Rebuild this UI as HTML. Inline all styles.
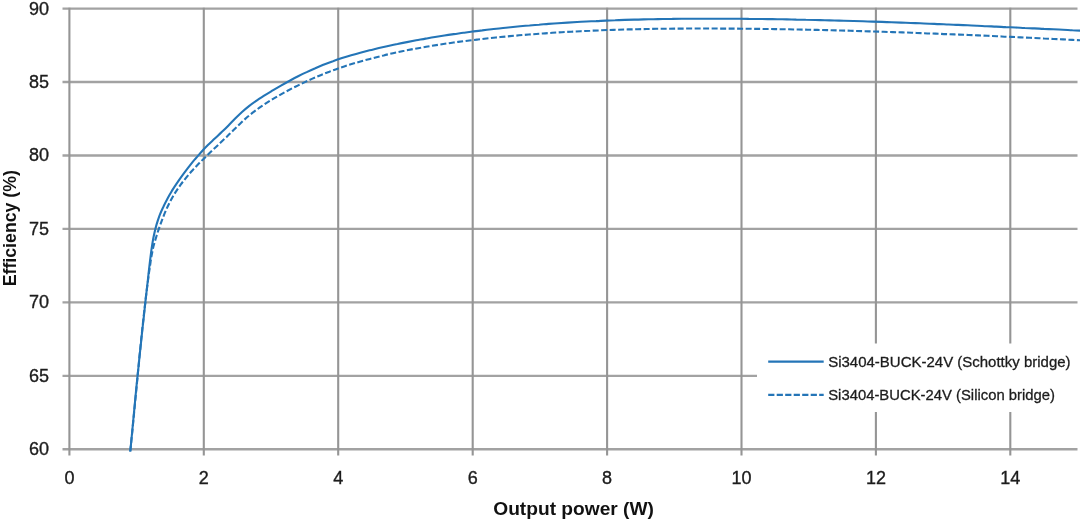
<!DOCTYPE html>
<html lang="en">
<head>
<meta charset="utf-8">
<title>Efficiency vs Output power</title>
<style>
html,body{margin:0;padding:0;background:#fff;}
body{width:1080px;height:520px;overflow:hidden;}
svg{display:block;}
text{font-family:"Liberation Sans",Arial,sans-serif;fill:#1c1c1c;}
.tick{font-size:18px;stroke:#1c1c1c;stroke-width:0.35px;}
.ttl{font-size:17.6px;font-weight:bold;fill:#111;}
.leg{font-size:15.4px;stroke:#1c1c1c;stroke-width:0.3px;}
.g line{stroke:#959595;stroke-width:2.1;}
.g line.h{stroke:#a2a2a2;stroke-width:2.4;}
</style>
</head>
<body>
<svg width="1080" height="520" viewBox="0 0 1080 520">
<rect width="1080" height="520" fill="#fff"/>
<g class="g">
<line class="h" x1="62.5" y1="449.3" x2="1077.5" y2="449.3"/>
<line class="h" x1="62.5" y1="375.9" x2="1077.5" y2="375.9"/>
<line class="h" x1="62.5" y1="302.4" x2="1077.5" y2="302.4"/>
<line class="h" x1="62.5" y1="228.9" x2="1077.5" y2="228.9"/>
<line class="h" x1="62.5" y1="155.5" x2="1077.5" y2="155.5"/>
<line class="h" x1="62.5" y1="82.0" x2="1077.5" y2="82.0"/>
<line class="h" x1="62.5" y1="8.6" x2="1077.5" y2="8.6"/>
<line x1="69.4" y1="7.8" x2="69.4" y2="455.5"/>
<line x1="203.8" y1="7.8" x2="203.8" y2="455.5"/>
<line x1="338.2" y1="7.8" x2="338.2" y2="455.5"/>
<line x1="472.7" y1="7.8" x2="472.7" y2="455.5"/>
<line x1="607.1" y1="7.8" x2="607.1" y2="455.5"/>
<line x1="741.5" y1="7.8" x2="741.5" y2="455.5"/>
<line x1="875.9" y1="7.8" x2="875.9" y2="455.5"/>
<line x1="1010.3" y1="7.8" x2="1010.3" y2="455.5"/>
</g>
<rect x="757" y="343.5" width="323" height="68.5" fill="#fff"/>
<path d="M130.3 451.5 C130.4 449.9 130.9 445.2 131.2 442.0 C131.5 438.8 131.8 435.7 132.1 432.5 C132.4 429.3 132.7 426.2 133.0 423.0 C133.3 419.8 133.6 416.7 133.9 413.5 C134.2 410.3 134.5 407.2 134.8 404.0 C135.1 400.8 135.4 397.7 135.7 394.5 C136.0 391.4 136.3 388.2 136.6 385.1 C137.0 381.9 137.3 378.7 137.6 375.6 C137.9 372.4 138.2 369.3 138.6 366.1 C138.9 363.0 139.2 359.8 139.5 356.6 C139.9 353.5 140.2 350.3 140.5 347.2 C140.9 344.0 141.2 340.9 141.5 337.7 C141.9 334.6 142.2 331.4 142.5 328.2 C142.9 325.1 143.2 321.9 143.6 318.8 C143.9 315.6 144.2 312.5 144.6 309.3 C144.9 306.1 145.3 303.0 145.6 299.8 C146.0 296.7 146.3 293.5 146.7 290.3 C147.0 287.2 147.4 284.0 147.8 280.8 C148.1 277.7 148.5 274.5 148.8 271.3 C149.2 268.2 149.5 265.0 149.9 261.8 C150.3 258.7 150.7 255.5 151.1 252.3 C151.5 249.2 152.0 246.0 152.5 242.9 C153.0 239.8 153.6 236.7 154.3 233.6 C155.0 230.5 155.7 227.4 156.6 224.4 C157.5 221.4 158.5 218.4 159.6 215.4 C160.7 212.5 162.0 209.5 163.4 206.7 C164.7 203.8 166.2 201.0 167.7 198.2 C169.2 195.4 170.9 192.6 172.5 189.9 C174.2 187.2 176.0 184.5 177.8 181.9 C179.5 179.3 181.4 176.7 183.3 174.1 C185.1 171.6 187.1 169.1 189.0 166.6 C191.0 164.1 193.0 161.6 195.0 159.2 C197.1 156.8 199.2 154.4 201.3 152.0 C203.4 149.7 205.6 147.4 207.9 145.1 C210.1 142.9 212.5 140.8 214.8 138.6 C217.1 136.4 219.5 134.3 221.7 132.1 C224.0 129.9 226.3 127.7 228.5 125.4 C230.7 123.2 232.9 120.9 235.2 118.6 C237.4 116.4 239.7 114.1 242.0 112.0 C244.4 109.9 246.8 107.9 249.3 105.9 C251.8 104.0 254.4 102.2 257.0 100.4 C259.7 98.6 262.4 96.9 265.0 95.2 C267.7 93.5 270.4 91.9 273.2 90.2 C275.9 88.6 278.6 87.0 281.4 85.4 C284.1 83.8 286.9 82.2 289.7 80.7 C292.5 79.2 295.3 77.7 298.1 76.3 C301.0 74.8 303.8 73.4 306.7 72.1 C309.5 70.7 312.4 69.4 315.3 68.2 C318.2 66.9 321.2 65.7 324.1 64.5 C327.1 63.3 330.0 62.2 333.0 61.2 C336.0 60.1 339.0 59.1 342.0 58.1 C345.1 57.1 348.1 56.2 351.2 55.3 C354.2 54.4 357.3 53.5 360.3 52.7 C363.4 51.9 366.5 51.1 369.6 50.3 C372.7 49.6 375.8 48.8 378.9 48.1 C382.0 47.4 385.1 46.7 388.2 46.0 C391.3 45.3 394.4 44.6 397.5 44.0 C400.6 43.3 403.7 42.7 406.9 42.1 C410.0 41.5 413.1 40.9 416.2 40.3 C419.4 39.7 422.5 39.2 425.6 38.6 C428.7 38.1 431.9 37.6 435.0 37.0 C438.1 36.5 441.3 36.0 444.4 35.5 C447.6 35.1 450.7 34.6 453.8 34.1 C457.0 33.7 460.1 33.2 463.3 32.8 C466.4 32.4 469.6 32.0 472.7 31.5 C475.9 31.1 479.0 30.7 482.2 30.4 C485.3 30.0 488.5 29.6 491.6 29.2 C494.8 28.9 497.9 28.5 501.1 28.2 C504.3 27.9 507.4 27.5 510.6 27.2 C513.7 26.9 516.9 26.6 520.1 26.3 C523.2 26.0 526.4 25.7 529.5 25.5 C532.7 25.2 535.9 24.9 539.0 24.7 C542.2 24.4 545.4 24.2 548.5 23.9 C551.7 23.7 554.9 23.5 558.0 23.2 C561.2 23.0 564.4 22.8 567.5 22.6 C570.7 22.4 573.9 22.2 577.1 22.0 C580.2 21.9 583.4 21.7 586.6 21.5 C589.7 21.4 592.9 21.2 596.1 21.1 C599.3 20.9 602.4 20.8 605.6 20.6 C608.8 20.5 612.0 20.4 615.1 20.3 C618.3 20.1 621.5 20.0 624.7 19.9 C627.8 19.8 631.0 19.7 634.2 19.6 C637.4 19.6 640.6 19.5 643.7 19.4 C646.9 19.3 650.1 19.3 653.3 19.2 C656.4 19.1 659.6 19.1 662.8 19.0 C666.0 19.0 669.2 18.9 672.3 18.9 C675.5 18.8 678.7 18.8 681.9 18.8 C685.1 18.8 688.2 18.7 691.4 18.7 C694.6 18.7 697.8 18.7 701.0 18.7 C704.1 18.7 707.3 18.7 710.5 18.7 C713.7 18.7 716.9 18.7 720.0 18.7 C723.2 18.7 726.4 18.7 729.6 18.7 C732.8 18.7 735.9 18.8 739.1 18.8 C742.3 18.8 745.5 18.8 748.7 18.9 C751.8 18.9 755.0 18.9 758.2 19.0 C761.4 19.0 764.5 19.0 767.7 19.1 C770.9 19.1 774.1 19.2 777.3 19.2 C780.4 19.3 783.6 19.3 786.8 19.4 C790.0 19.5 793.1 19.5 796.3 19.6 C799.5 19.6 802.7 19.7 805.8 19.8 C809.0 19.8 812.2 19.9 815.4 20.0 C818.5 20.1 821.7 20.1 824.9 20.2 C828.1 20.3 831.2 20.4 834.4 20.5 C837.6 20.6 840.8 20.6 843.9 20.7 C847.1 20.8 850.3 20.9 853.5 21.0 C856.6 21.1 859.8 21.2 863.0 21.3 C866.2 21.4 869.3 21.5 872.5 21.6 C875.7 21.7 878.9 21.8 882.0 21.9 C885.2 22.0 888.4 22.2 891.6 22.3 C894.7 22.4 897.9 22.5 901.1 22.6 C904.3 22.7 907.4 22.9 910.6 23.0 C913.8 23.1 916.9 23.2 920.1 23.3 C923.3 23.5 926.5 23.6 929.6 23.7 C932.8 23.8 936.0 24.0 939.2 24.1 C942.3 24.2 945.5 24.4 948.7 24.5 C951.9 24.6 955.0 24.8 958.2 24.9 C961.4 25.0 964.6 25.2 967.7 25.3 C970.9 25.5 974.1 25.6 977.2 25.7 C980.4 25.9 983.6 26.0 986.8 26.2 C989.9 26.3 993.1 26.5 996.3 26.6 C999.5 26.8 1002.6 26.9 1005.8 27.1 C1009.0 27.2 1012.2 27.4 1015.3 27.5 C1018.5 27.7 1021.7 27.8 1024.9 28.0 C1028.0 28.1 1031.2 28.3 1034.4 28.4 C1037.6 28.6 1040.7 28.7 1043.9 28.9 C1047.1 29.0 1050.3 29.2 1053.4 29.3 C1056.6 29.5 1059.8 29.7 1063.0 29.8 C1066.1 30.0 1069.3 30.1 1072.5 30.3 C1075.7 30.4 1080.4 30.7 1082.0 30.8" fill="none" stroke="#2475b7" stroke-width="2.1" stroke-linejoin="round"/>
<path d="M130.2 451.5 C130.4 449.9 130.9 445.2 131.2 442.1 C131.5 438.9 131.8 435.8 132.2 432.7 C132.5 429.5 132.8 426.4 133.1 423.3 C133.4 420.1 133.7 417.0 134.0 413.8 C134.3 410.7 134.6 407.6 134.9 404.4 C135.2 401.3 135.5 398.1 135.8 395.0 C136.1 391.9 136.4 388.7 136.7 385.6 C137.0 382.4 137.3 379.3 137.6 376.1 C137.9 373.0 138.2 369.9 138.5 366.7 C138.8 363.6 139.1 360.4 139.4 357.3 C139.7 354.2 140.1 351.0 140.4 347.9 C140.7 344.7 141.0 341.6 141.3 338.5 C141.7 335.3 142.0 332.2 142.3 329.0 C142.6 325.9 143.0 322.8 143.3 319.6 C143.7 316.5 144.0 313.4 144.4 310.2 C144.7 307.1 145.1 304.0 145.5 300.8 C145.8 297.7 146.2 294.6 146.6 291.4 C147.0 288.3 147.4 285.2 147.8 282.1 C148.2 278.9 148.6 275.8 149.0 272.7 C149.5 269.6 149.9 266.4 150.4 263.3 C150.8 260.2 151.3 257.1 151.9 254.0 C152.5 250.9 153.1 247.8 153.9 244.8 C154.7 241.7 155.7 238.7 156.6 235.7 C157.5 232.7 158.6 229.7 159.6 226.7 C160.7 223.7 161.7 220.8 162.9 217.8 C164.0 214.9 165.2 211.9 166.5 209.1 C167.8 206.2 169.2 203.4 170.7 200.6 C172.2 197.8 173.7 195.1 175.4 192.4 C177.1 189.8 178.9 187.2 180.7 184.6 C182.6 182.1 184.6 179.6 186.6 177.1 C188.6 174.7 190.6 172.3 192.8 170.0 C194.9 167.6 197.1 165.4 199.3 163.1 C201.5 160.9 203.7 158.7 206.0 156.5 C208.2 154.3 210.5 152.1 212.8 149.9 C215.1 147.8 217.4 145.6 219.7 143.5 C222.0 141.3 224.3 139.1 226.6 136.9 C228.8 134.7 231.1 132.5 233.3 130.3 C235.6 128.1 237.8 125.9 240.1 123.7 C242.4 121.5 244.7 119.4 247.0 117.3 C249.4 115.3 251.9 113.3 254.4 111.4 C256.9 109.5 259.5 107.7 262.1 105.9 C264.7 104.2 267.3 102.5 270.0 100.8 C272.7 99.2 275.4 97.5 278.1 96.0 C280.9 94.4 283.6 92.9 286.4 91.4 C289.2 89.9 292.0 88.4 294.8 87.0 C297.6 85.6 300.5 84.2 303.3 82.9 C306.2 81.5 309.0 80.2 311.9 78.9 C314.8 77.7 317.7 76.4 320.6 75.2 C323.5 74.0 326.4 72.8 329.4 71.7 C332.3 70.5 335.3 69.4 338.2 68.4 C341.2 67.3 344.2 66.4 347.2 65.4 C350.2 64.5 353.2 63.6 356.3 62.7 C359.3 61.8 362.3 61.0 365.4 60.1 C368.4 59.3 371.5 58.5 374.5 57.7 C377.6 56.9 380.6 56.1 383.7 55.4 C386.8 54.6 389.9 53.9 392.9 53.2 C396.0 52.5 399.1 51.9 402.2 51.2 C405.3 50.6 408.4 50.0 411.5 49.4 C414.6 48.8 417.7 48.2 420.8 47.7 C423.9 47.1 427.0 46.6 430.1 46.1 C433.2 45.6 436.3 45.1 439.4 44.6 C442.6 44.1 445.7 43.7 448.8 43.2 C451.9 42.8 455.1 42.3 458.2 41.9 C461.3 41.5 464.4 41.1 467.6 40.7 C470.7 40.3 473.8 40.0 477.0 39.6 C480.1 39.2 483.2 38.9 486.4 38.5 C489.5 38.2 492.6 37.9 495.8 37.5 C498.9 37.2 502.1 36.9 505.2 36.6 C508.3 36.3 511.5 36.0 514.6 35.7 C517.8 35.5 520.9 35.2 524.0 34.9 C527.2 34.7 530.3 34.4 533.5 34.2 C536.6 33.9 539.8 33.7 542.9 33.5 C546.0 33.2 549.2 33.0 552.3 32.8 C555.5 32.6 558.6 32.4 561.8 32.2 C564.9 32.0 568.1 31.9 571.2 31.7 C574.4 31.5 577.5 31.4 580.7 31.2 C583.8 31.1 587.0 30.9 590.1 30.8 C593.3 30.6 596.4 30.5 599.6 30.4 C602.7 30.2 605.9 30.1 609.0 30.0 C612.2 29.9 615.3 29.8 618.5 29.7 C621.6 29.6 624.8 29.5 628.0 29.4 C631.1 29.4 634.3 29.3 637.4 29.2 C640.6 29.1 643.7 29.1 646.9 29.0 C650.0 29.0 653.2 28.9 656.3 28.8 C659.5 28.8 662.7 28.8 665.8 28.7 C669.0 28.7 672.1 28.7 675.3 28.6 C678.4 28.6 681.6 28.6 684.8 28.6 C687.9 28.5 691.1 28.5 694.2 28.5 C697.4 28.5 700.5 28.5 703.7 28.5 C706.8 28.5 710.0 28.5 713.2 28.5 C716.3 28.5 719.5 28.6 722.6 28.6 C725.8 28.6 728.9 28.6 732.1 28.6 C735.2 28.6 738.4 28.7 741.6 28.7 C744.7 28.7 747.9 28.8 751.0 28.8 C754.2 28.8 757.3 28.9 760.5 28.9 C763.6 29.0 766.8 29.0 770.0 29.0 C773.1 29.1 776.3 29.1 779.4 29.2 C782.6 29.2 785.7 29.3 788.9 29.3 C792.0 29.4 795.2 29.5 798.3 29.5 C801.5 29.6 804.6 29.6 807.8 29.7 C811.0 29.8 814.1 29.9 817.3 29.9 C820.4 30.0 823.6 30.1 826.7 30.1 C829.9 30.2 833.0 30.3 836.2 30.4 C839.3 30.5 842.5 30.5 845.6 30.6 C848.8 30.7 851.9 30.8 855.1 30.9 C858.2 31.0 861.4 31.1 864.6 31.2 C867.7 31.3 870.9 31.4 874.0 31.5 C877.2 31.6 880.3 31.7 883.5 31.8 C886.6 31.9 889.8 32.0 892.9 32.1 C896.1 32.2 899.2 32.3 902.4 32.4 C905.5 32.5 908.7 32.6 911.8 32.7 C915.0 32.9 918.1 33.0 921.3 33.1 C924.4 33.2 927.6 33.3 930.7 33.5 C933.9 33.6 937.0 33.7 940.2 33.8 C943.3 34.0 946.5 34.1 949.6 34.2 C952.8 34.3 955.9 34.5 959.1 34.6 C962.3 34.7 965.4 34.9 968.6 35.0 C971.7 35.1 974.9 35.3 978.0 35.4 C981.2 35.5 984.3 35.7 987.5 35.8 C990.6 36.0 993.8 36.1 996.9 36.2 C1000.1 36.4 1003.2 36.5 1006.4 36.7 C1009.5 36.8 1012.7 37.0 1015.8 37.1 C1019.0 37.3 1022.1 37.4 1025.3 37.6 C1028.4 37.7 1031.6 37.9 1034.7 38.0 C1037.9 38.2 1041.0 38.3 1044.2 38.5 C1047.3 38.6 1050.5 38.8 1053.6 39.0 C1056.8 39.1 1060.0 39.3 1063.1 39.4 C1066.3 39.6 1069.4 39.8 1072.6 39.9 C1075.7 40.1 1080.4 40.3 1082.0 40.4" fill="none" stroke="#2475b7" stroke-width="2.1" stroke-dasharray="6 2.5" stroke-linejoin="round"/>
<line x1="768.2" y1="361.7" x2="823.7" y2="361.7" stroke="#2475b7" stroke-width="2.3"/>
<line x1="768.2" y1="394.8" x2="823.7" y2="394.8" stroke="#2475b7" stroke-width="2.3" stroke-dasharray="6.2 2.3"/>
<text class="leg" x="828.2" y="367.2" textLength="242.4" lengthAdjust="spacingAndGlyphs">Si3404-BUCK-24V (Schottky bridge)</text>
<text class="leg" x="828.2" y="400.3" textLength="226.8" lengthAdjust="spacingAndGlyphs">Si3404-BUCK-24V (Silicon bridge)</text>
<text class="tick" x="49.0" y="455.2" text-anchor="end">60</text>
<text class="tick" x="49.0" y="381.8" text-anchor="end">65</text>
<text class="tick" x="49.0" y="308.3" text-anchor="end">70</text>
<text class="tick" x="49.0" y="234.8" text-anchor="end">75</text>
<text class="tick" x="49.0" y="161.4" text-anchor="end">80</text>
<text class="tick" x="49.0" y="88.0" text-anchor="end">85</text>
<text class="tick" x="49.0" y="14.5" text-anchor="end">90</text>
<text class="tick" x="69.4" y="483.6" text-anchor="middle">0</text>
<text class="tick" x="203.8" y="483.6" text-anchor="middle">2</text>
<text class="tick" x="338.2" y="483.6" text-anchor="middle">4</text>
<text class="tick" x="472.7" y="483.6" text-anchor="middle">6</text>
<text class="tick" x="607.1" y="483.6" text-anchor="middle">8</text>
<text class="tick" x="741.5" y="483.6" text-anchor="middle">10</text>
<text class="tick" x="875.9" y="483.6" text-anchor="middle">12</text>
<text class="tick" x="1010.3" y="483.6" text-anchor="middle">14</text>
<text class="ttl" x="573.6" y="515.2" text-anchor="middle" textLength="160.7" lengthAdjust="spacingAndGlyphs">Output power (W)</text>
<text class="ttl" transform="translate(16.2 228.2) rotate(-90)" text-anchor="middle" textLength="116.3" lengthAdjust="spacingAndGlyphs">Efficiency (%)</text>
</svg>
</body>
</html>
